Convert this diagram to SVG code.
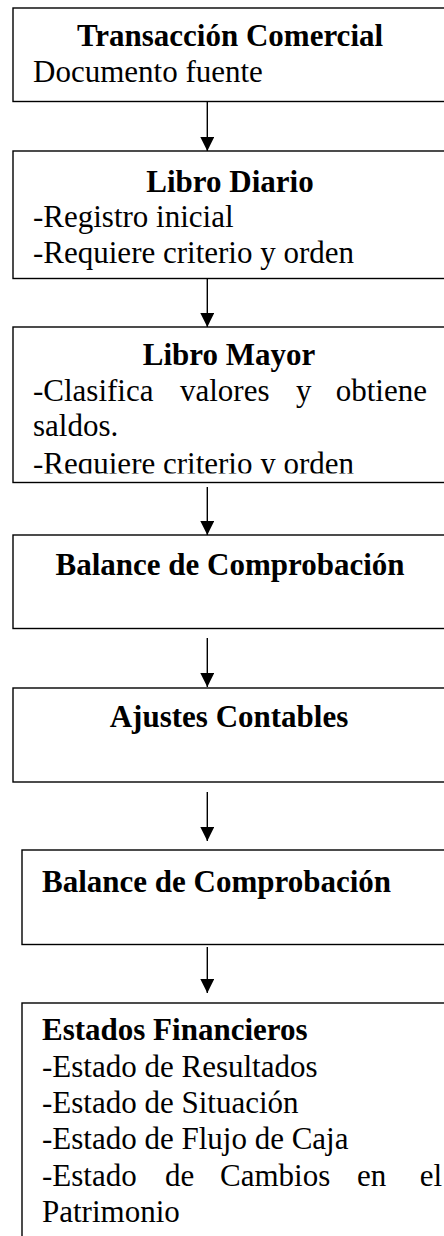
<svg xmlns="http://www.w3.org/2000/svg" width="444" height="1236" viewBox="0 0 444 1236">
<style>
.box{fill:#fff;stroke:#000;stroke-width:1.4}
.t{font-family:"Liberation Serif","Times New Roman",serif;font-size:31px;fill:#000}
.b{font-weight:bold}
.c{text-anchor:middle}
.e{text-anchor:end}
.conn line{stroke:#000;stroke-width:1.4}
</style>
<defs>
<marker id="ah" viewBox="0 0 14 14" refX="14" refY="7" markerWidth="14" markerHeight="14" markerUnits="userSpaceOnUse" orient="auto">
<path d="M0,0 L14,7 L0,14 Z" fill="#000"/>
</marker>
<clipPath id="clip3"><rect x="0" y="327" width="444" height="146.5"/></clipPath>
</defs>
<rect width="444" height="1236" fill="#fff"/>
<g id="n1">
<rect class="box" x="13" y="8" width="460" height="93.5"/>
<text class="t b c" x="230" y="46">Transacción Comercial</text>
<text class="t" x="33" y="82">Documento fuente</text>
</g>
<g id="n2">
<rect class="box" x="13" y="151" width="460" height="127.5"/>
<text class="t b c" x="230" y="192">Libro Diario</text>
<text class="t" x="33" y="227">-Registro inicial</text>
<text class="t" x="33" y="263">-Requiere criterio y orden</text>
</g>
<g id="n3">
<rect class="box" x="13" y="327" width="460" height="155.5"/>
<text class="t b c" x="229" y="365">Libro Mayor</text>
<text class="t" x="33" y="401">-Clasifica</text>
<text class="t" x="180" y="401">valores</text>
<text class="t" x="296" y="401">y</text>
<text class="t e" x="427" y="401">obtiene</text>
<text class="t" x="33" y="436">saldos.</text>
<text class="t" x="33" y="474" clip-path="url(#clip3)">-Requiere criterio y orden</text>
</g>
<g id="n4">
<rect class="box" x="13" y="535" width="460" height="93.5"/>
<text class="t b c" x="230" y="575">Balance de Comprobación</text>
</g>
<g id="n5">
<rect class="box" x="13" y="688" width="460" height="94"/>
<text class="t b c" x="229" y="727">Ajustes Contables</text>
</g>
<g id="n6">
<rect class="box" x="22" y="850" width="460" height="94.5"/>
<text class="t b" x="42" y="892">Balance de Comprobación</text>
</g>
<g id="n7">
<rect class="box" x="22" y="1003" width="460" height="260"/>
<text class="t b" x="42" y="1040">Estados Financieros</text>
<text class="t" x="42" y="1077">-Estado de Resultados</text>
<text class="t" x="42" y="1113">-Estado de Situación</text>
<text class="t" x="42" y="1149">-Estado de Flujo de Caja</text>
<text class="t" x="42" y="1186">-Estado</text>
<text class="t" x="165" y="1186">de</text>
<text class="t" x="220" y="1186">Cambios</text>
<text class="t" x="357" y="1186">en</text>
<text class="t e" x="442" y="1186">el</text>
<text class="t" x="42" y="1222">Patrimonio</text>
</g>
<g id="connectors" class="conn">
<line x1="207.3" y1="102" x2="207.3" y2="151" marker-end="url(#ah)"/>
<line x1="207.3" y1="279" x2="207.3" y2="327" marker-end="url(#ah)"/>
<line x1="207.3" y1="487" x2="207.3" y2="535" marker-end="url(#ah)"/>
<line x1="207.3" y1="638" x2="207.3" y2="687" marker-end="url(#ah)"/>
<line x1="207.3" y1="792" x2="207.3" y2="841" marker-end="url(#ah)"/>
<line x1="207.3" y1="947" x2="207.3" y2="993" marker-end="url(#ah)"/>
</g>
</svg>
